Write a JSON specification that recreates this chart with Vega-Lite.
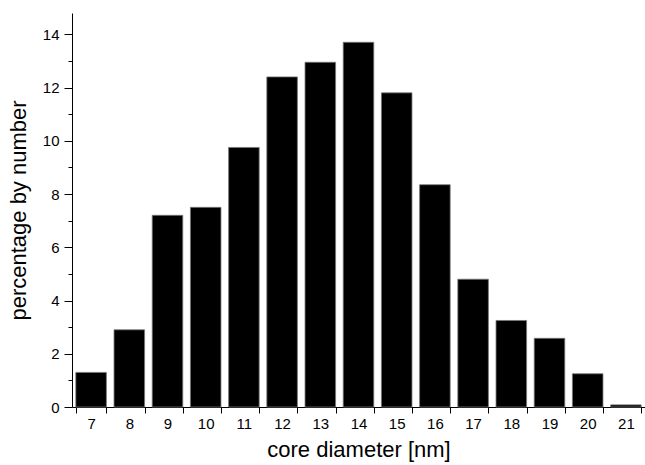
{
  "$schema": "https://vega.github.io/schema/vega-lite/v6.json",
  "autosize": {"type": "none"},
  "padding": {"left": 72, "top": 13, "right": 0, "bottom": 58},
  "width": 573,
  "height": 394,
  "background": "white",
  "config": {
    "view": {"stroke": null},
    "font": "Liberation Sans",
    "axis": {
      "domainColor": "black",
      "tickColor": "black",
      "labelColor": "black",
      "titleColor": "black",
      "labelFont": "Liberation Sans",
      "titleFont": "Liberation Sans",
      "labelFontSize": 15,
      "titleFontSize": 22,
      "titleFontWeight": "normal",
      "grid": false
    }
  },
  "data": {
    "values": [
      {"diameter": 7, "percentage": 1.3},
      {"diameter": 8, "percentage": 2.9},
      {"diameter": 9, "percentage": 7.2},
      {"diameter": 10, "percentage": 7.5},
      {"diameter": 11, "percentage": 9.75},
      {"diameter": 12, "percentage": 12.4},
      {"diameter": 13, "percentage": 12.95},
      {"diameter": 14, "percentage": 13.7},
      {"diameter": 15, "percentage": 11.8},
      {"diameter": 16, "percentage": 8.35},
      {"diameter": 17, "percentage": 4.8},
      {"diameter": 18, "percentage": 3.25},
      {"diameter": 19, "percentage": 2.58},
      {"diameter": 20, "percentage": 1.25},
      {"diameter": 21, "percentage": 0.08}
    ]
  },
  "mark": {"type": "bar", "color": "black", "stroke": "#777777", "strokeWidth": 0.8},
  "encoding": {
    "x": {
      "field": "diameter",
      "type": "ordinal",
      "sort": "ascending",
      "scale": {"paddingInner": 0.2, "paddingOuter": 0.1},
      "axis": {
        "title": "core diameter [nm]",
        "labelAngle": 0,
        "tickBand": "extent",
        "tickSize": 6,
        "labelPadding": 3,
        "titlePadding": 8
      }
    },
    "y": {
      "field": "percentage",
      "type": "quantitative",
      "scale": {"domain": [0, 14.8], "nice": false, "zero": true},
      "axis": {
        "title": "percentage by number",
        "values": [0, 1, 2, 3, 4, 5, 6, 7, 8, 9, 10, 11, 12, 13, 14],
        "labelExpr": "datum.value % 2 === 0 ? datum.label : ''",
        "tickSize": {"condition": {"test": "datum.value % 2 === 1", "value": 4}, "value": 8},
        "labelPadding": 5,
        "titlePadding": 12
      }
    }
  }
}
